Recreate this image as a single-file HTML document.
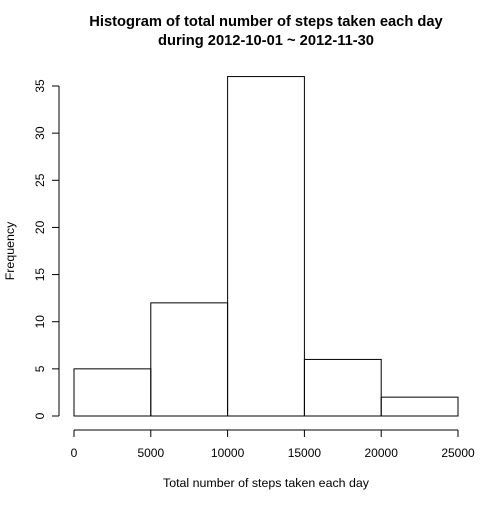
<!DOCTYPE html>
<html><head><meta charset="utf-8"><style>
body{margin:0;background:#fff}
svg text{font-family:"Liberation Sans",Arial,sans-serif;fill:#000}
</style></head><body>
<svg id="chart" width="504" height="504">
<text x="266" y="26" font-size="14.7" font-weight="bold" text-anchor="middle">Histogram of total number of steps taken each day</text>
<text x="266" y="45" font-size="14.7" font-weight="bold" text-anchor="middle">during 2012-10-01 ~ 2012-11-30</text>
<text x="266" y="487" font-size="12.4" text-anchor="middle">Total number of steps taken each day</text>
<text transform="translate(14,251) rotate(-90)" font-size="12.4" text-anchor="middle">Frequency</text>
<g id="bars"></g><g id="xaxis"></g><g id="yaxis"></g>
</svg>
<script>
const binEdges=[0,5000,10000,15000,20000,25000];
const counts=[5,12,36,6,2];
const xTicks=[0,5000,10000,15000,20000,25000];
const yTicks=[0,5,10,15,20,25,30,35];
const NS="http://www.w3.org/2000/svg";
const x=v=>74+(v/25000)*384;
const y=v=>416-(v/35)*330;
function mk(t,a,p){const e=document.createElementNS(NS,t);for(const k in a)e.setAttribute(k,a[k]);p.appendChild(e);return e;}
const bars=document.getElementById('bars'),xa=document.getElementById('xaxis'),ya=document.getElementById('yaxis');
counts.forEach((c,i)=>{
 const r=mk('rect',{x:x(binEdges[i]),y:y(c),width:x(binEdges[i+1])-x(binEdges[i]),height:y(0)-y(c),fill:'none',stroke:'#000','stroke-width':1},bars);
 
 
});
const xl=mk('line',{x1:x(xTicks[0]),x2:x(xTicks[xTicks.length-1]),y1:430,y2:430,stroke:'#000'},xa);


xTicks.forEach(v=>{
 mk('line',{x1:x(v),x2:x(v),y1:430,y2:437,stroke:'#000'},xa);
 const t=mk('text',{x:x(v),y:457,'font-size':12,'text-anchor':'middle'},xa);t.textContent=v;
 
 
});
const yl=mk('line',{x1:59,x2:59,y1:y(0),y2:y(35),stroke:'#000'},ya);


yTicks.forEach(v=>{
 mk('line',{x1:52,x2:59,y1:y(v),y2:y(v),stroke:'#000'},ya);
 const t=mk('text',{transform:`translate(44,${y(v)}) rotate(-90)`,'font-size':12,'text-anchor':'middle'},ya);t.textContent=v;
 
 
});
</script>
</body></html>
